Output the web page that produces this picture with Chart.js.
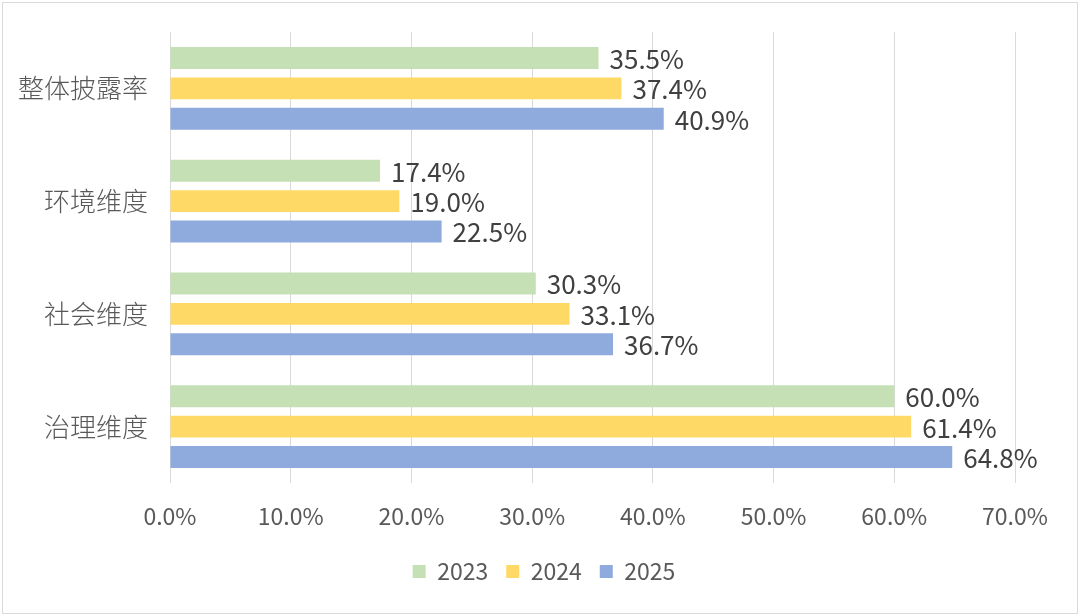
<!DOCTYPE html>
<html>
<head>
<meta charset="utf-8">
<script src="https://cdn.jsdelivr.net/npm/chart.js@4.4.0/dist/chart.umd.min.js"></script>
<style>
  body { margin: 0; background: #fff; }
  #wrap { position: relative; width: 1080px; height: 616px; }
  #frame { position: absolute; left: 2px; top: 2px; right: 2px; bottom: 2px; border: 1px solid #d9d9d9; pointer-events: none; }
</style>
</head>
<body>
<div id="wrap">
  <canvas id="chart" width="1080" height="616"></canvas>
  <div id="frame"></div>
</div>
<script>
const categories = ['整体披露率', '环境维度', '社会维度', '治理维度'];
const years = ['2023', '2024', '2025'];
const values2023 = [35.5, 17.4, 30.3, 60.0];
const values2024 = [37.4, 19.0, 33.1, 61.4];
const values2025 = [40.9, 22.5, 36.7, 64.8];
const colors = ['#C5E0B4', '#FFD966', '#8FAADC'];

const fontCJK = '"Noto Sans CJK SC", "Noto Sans", sans-serif';

// draw the value labels at the end of each bar
const valueLabels = {
  id: 'valueLabels',
  afterDatasetsDraw(chart) {
    const ctx = chart.ctx;
    ctx.save();
    ctx.font = '26px ' + fontCJK;
    ctx.fillStyle = '#404040';
    ctx.textBaseline = 'middle';
    ctx.textAlign = 'left';
    chart.data.datasets.forEach((ds, i) => {
      chart.getDatasetMeta(i).data.forEach((bar, j) => {
        ctx.fillText(ds.data[j].toFixed(1) + '%', bar.x + 11, bar.y + 1);
      });
    });
    ctx.restore();
  }
};

new Chart(document.getElementById('chart'), {
  type: 'bar',
  data: {
    labels: categories,
    datasets: [
      { label: years[0], data: values2023, backgroundColor: colors[0] },
      { label: years[1], data: values2024, backgroundColor: colors[1] },
      { label: years[2], data: values2025, backgroundColor: colors[2] }
    ]
  },
  options: {
    indexAxis: 'y',
    responsive: false,
    animation: false,
    layout: { padding: { top: 32, right: 0, left: 8, bottom: 23 } },
    datasets: { bar: { categoryPercentage: 0.81, barPercentage: 0.72 } },
    plugins: {
      legend: {
        position: 'bottom',
        labels: {
          boxWidth: 13, boxHeight: 13, padding: 18,
          color: '#595959',
          font: { family: fontCJK, size: 23 }
        }
      },
      tooltip: { enabled: false }
    },
    scales: {
      x: {
        min: 0, max: 70,
        ticks: {
          stepSize: 10,
          padding: 19,
          color: '#595959',
          font: { family: fontCJK, size: 23 },
          callback: v => v.toFixed(1) + '%'
        },
        grid: { color: '#d9d9d9', drawTicks: false },
        border: { display: false },
        afterFit: s => { s.height = 59; }
      },
      y: {
        ticks: {
          padding: 22,
          color: '#595959',
          font: { family: fontCJK, size: 26, weight: '300' }
        },
        grid: { display: false, drawTicks: false },
        border: { display: false },
        afterFit: s => {
          s.width = 162;
          // tick padding should not push the plot area down
          s.paddingTop = 0;
          s.paddingBottom = 0;
        }
      },
      // empty right-hand axis, only keeps room for the value labels
      yRight: {
        type: 'category',
        position: 'right',
        ticks: { display: false },
        grid: { display: false, drawTicks: false },
        border: { display: false },
        afterFit: s => { s.width = 65; }
      }
    }
  },
  plugins: [valueLabels]
});
</script>
</body>
</html>
